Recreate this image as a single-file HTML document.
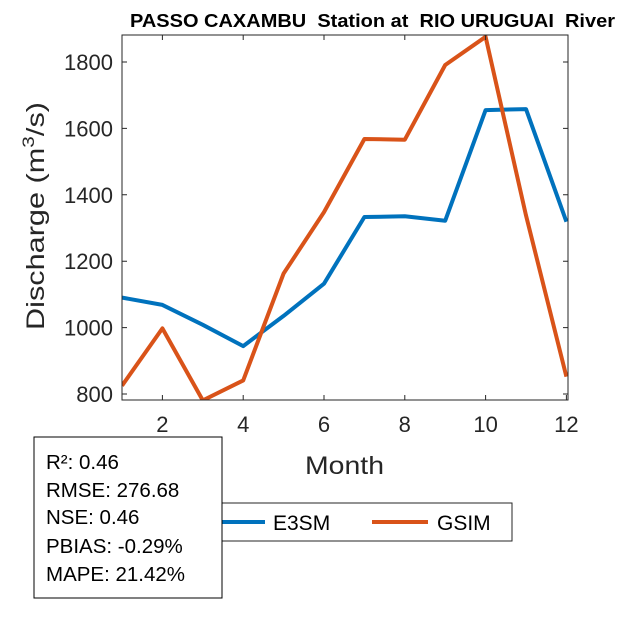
<!DOCTYPE html>
<html><head><style>body{margin:0;background:#fff}</style></head><body>
<svg width="625" height="625" xmlns="http://www.w3.org/2000/svg" font-family="Liberation Sans, Arial, sans-serif">
<rect width="625" height="625" fill="#fff"/>
<defs><clipPath id="c"><rect x="122" y="35" width="446" height="365"/></clipPath></defs>
<g clip-path="url(#c)" fill="none" stroke-width="4" stroke-linejoin="round">
<polyline stroke="#0072BD" points="122,297.6 162.4,304.9 202.8,324.8 243.2,346.1 283.6,315.9 324,283.7 364.4,217 404.8,216.3 445.2,220.7 485.6,110.1 526,109.1 566.4,221.7"/>
<polyline stroke="#D95319" points="122,385.7 162.4,328.4 202.8,400.4 243.2,380.4 283.6,273.5 324,212.1 364.4,139 404.8,139.7 445.2,65 485.6,36.8 526,215.4 566.4,376.7"/>
</g>
<g stroke="#262626" stroke-width="1" fill="none">
<rect x="122" y="35" width="446" height="365"/>
<path d="M162.4,400v-5M243.2,400v-5M324,400v-5M404.8,400v-5M485.6,400v-5M566.4,400v-5M162.4,35v5M243.2,35v5M324,35v5M404.8,35v5M485.6,35v5"/>
<path d="M122,394h5M122,327.6h5M122,261.2h5M122,194.8h5M122,128.4h5M122,62h5M568,394h-5M568,327.6h-5M568,261.2h-5M568,194.8h-5M568,128.4h-5M568,62h-5"/>
</g>
<g font-size="22" fill="#262626" text-anchor="middle">
<text x="162.4" y="432">2</text><text x="243.2" y="432">4</text><text x="324" y="432">6</text><text x="404.8" y="432">8</text><text x="485.6" y="432">10</text><text x="566.4" y="432">12</text>
</g>
<g font-size="22" fill="#262626" text-anchor="end">
<text x="113" y="402">800</text><text x="113" y="335.6">1000</text><text x="113" y="269.2">1200</text><text x="113" y="202.8">1400</text><text x="113" y="136.4">1600</text><text x="113" y="70">1800</text>
</g>
<text x="305" y="474" font-size="25" fill="#262626" textLength="79" lengthAdjust="spacingAndGlyphs">Month</text>
<text transform="translate(44,330) rotate(-90)" font-size="25" fill="#262626" textLength="228" lengthAdjust="spacingAndGlyphs">Discharge (m<tspan font-size="17" dy="-10">3</tspan><tspan dy="10">/s)</tspan></text>
<text x="130" y="27" font-size="18" font-weight="bold" fill="#000" textLength="485" lengthAdjust="spacingAndGlyphs" xml:space="preserve">PASSO CAXAMBU  Station at  RIO URUGUAI  River</text>
<rect x="220" y="503" width="292" height="38" fill="#fff" stroke="#262626"/>
<line x1="222" y1="522" x2="265" y2="522" stroke="#0072BD" stroke-width="4"/>
<text x="273" y="530" font-size="21" fill="#000">E3SM</text>
<line x1="372" y1="522" x2="428" y2="522" stroke="#D95319" stroke-width="4"/>
<text x="437" y="530" font-size="21" fill="#000">GSIM</text>
<rect x="34" y="437" width="188" height="161" fill="#fff" stroke="#000"/>
<g font-size="20.5" fill="#000">
<text x="46" y="469">R²: 0.46</text>
<text x="46" y="497">RMSE: 276.68</text>
<text x="46" y="524">NSE: 0.46</text>
<text x="46" y="553">PBIAS: -0.29%</text>
<text x="46" y="581">MAPE: 21.42%</text>
</g>
</svg>
</body></html>
